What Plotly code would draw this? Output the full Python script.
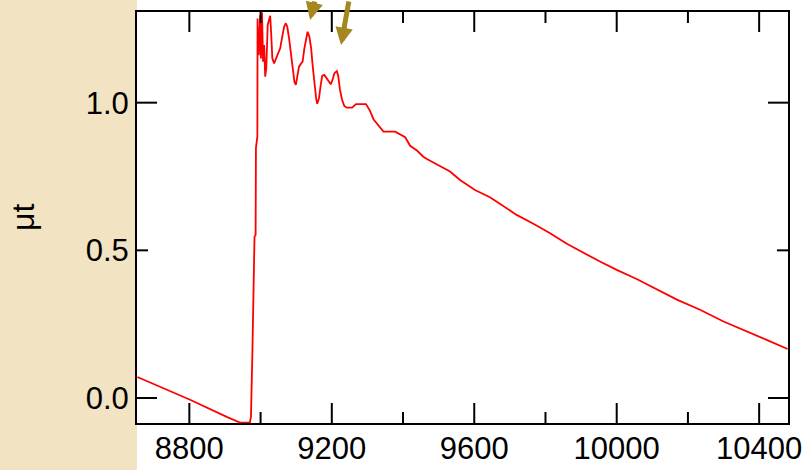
import plotly.graph_objects as go

# Energy (eV) and normalized absorption (mu t)
energy = [8654, 8802, 8905, 8942, 8970, 8973, 8977, 8980, 8983, 8986, 8987, 8991, 8991.5,
          8995, 8999, 9001, 9004, 9007, 9010, 9013, 9016, 9020, 9024, 9027, 9030, 9033,
          9038, 9043, 9048, 9055, 9060, 9066, 9071, 9075, 9080, 9085, 9089, 9095, 9099,
          9103, 9108, 9114, 9118, 9123, 9128, 9132, 9137, 9142, 9146, 9151, 9156, 9159,
          9164, 9169, 9173, 9179, 9186, 9192, 9197, 9202, 9207, 9214, 9218, 9223, 9229,
          9235, 9242, 9257, 9268, 9296, 9307, 9317, 9335, 9345, 9378, 9392, 9406, 9420,
          9439, 9457, 9467, 9532, 9560, 9602, 9644, 9673, 9719, 9766, 9813, 9860, 9907,
          9953, 10000, 10056, 10169, 10234, 10300, 10356, 10421, 10480]
mu = [0.071, -0.006, -0.064, -0.083, -0.083, -0.063, 0.153, 0.424, 0.547, 0.552, 0.847, 0.886, 1.285,
      1.161, 1.297, 1.150, 1.305, 1.139, 1.195, 1.088, 1.116, 1.263, 1.285, 1.294, 1.229, 1.150,
      1.133, 1.150, 1.161, 1.184, 1.218, 1.257, 1.269, 1.257, 1.218, 1.172, 1.122, 1.071, 1.060,
      1.083, 1.122, 1.133, 1.139, 1.184, 1.218, 1.240, 1.223, 1.184, 1.128, 1.066, 1.015, 0.996,
      1.015, 1.060, 1.091, 1.094, 1.080, 1.069, 1.062, 1.077, 1.099, 1.107, 1.091, 1.043, 1.009,
      0.989, 0.983, 0.983, 0.995, 0.995, 0.973, 0.944, 0.919, 0.902, 0.902, 0.891, 0.883, 0.854,
      0.838, 0.817, 0.809, 0.767, 0.738, 0.704, 0.680, 0.657, 0.620, 0.590, 0.558, 0.522, 0.491,
      0.462, 0.434, 0.403, 0.333, 0.299, 0.259, 0.231, 0.197, 0.166]

x_major = [8800, 9200, 9600, 10000, 10400]
x_ticktext = ["8800", "9200", "9600", "10000", "10400"]
x_minor = [9000, 9400, 9800, 10200]
y_ticks = [0.0, 0.5, 1.0]
y_ticktext = ["0.0", "0.5", "1.0"]
y_major = [0.0, 1.0]
y_minor = [0.5]
# Arrow tips (energy, mu t) marking features
arrow_x = [9139, 9226]
arrow_y = [1.280, 1.195]
arrow_ax = [5, 8]
arrow_ay = [-30, -50]

X_RANGE = [8653, 10481]
Y_RANGE = [-0.0846, 1.307]
FONT = "Liberation Sans, Arial, sans-serif"
RED = "#FF0000"
GOLD = "#A4871E"
BEIGE = "#F2E3C3"

W, H = 805, 470
M = dict(l=137, r=17, t=12, b=47)
PW = W - M["l"] - M["r"]
PH = H - M["t"] - M["b"]
MAJOR_LEN, MINOR_LEN, OUT_LEN = 20, 11, 2

fig = go.Figure()
fig.add_trace(go.Scatter(x=energy, y=mu, mode="lines",
                         line=dict(color=RED, width=1.8), showlegend=False,
                         hoverinfo="skip"))

# inward tick marks on all four sides (drawn from the tick value lists)
shapes = [dict(type="rect", xref="paper", yref="paper", x0=-0.3, x1=0,
               y0=-0.2, y1=1.1, fillcolor=BEIGE, line=dict(width=0), layer="below")]
tick_line = dict(color="black", width=2)
for vals, ln in ((x_major, MAJOR_LEN), (x_minor, MINOR_LEN)):
    for v in vals:
        shapes.append(dict(type="line", xref="x", yref="paper", x0=v, x1=v,
                           y0=-OUT_LEN / PH, y1=ln / PH, line=tick_line))
        shapes.append(dict(type="line", xref="x", yref="paper", x0=v, x1=v,
                           y0=1 + OUT_LEN / PH, y1=1 - ln / PH, line=tick_line))
for vals, ln in ((y_major, MAJOR_LEN), (y_minor, MINOR_LEN)):
    for v in vals:
        shapes.append(dict(type="line", xref="paper", yref="y", y0=v, y1=v,
                           x0=-OUT_LEN / PW, x1=ln / PW, line=tick_line))
        shapes.append(dict(type="line", xref="paper", yref="y", y0=v, y1=v,
                           x0=1 + OUT_LEN / PW, x1=1 - ln / PW, line=tick_line))

annotations = []
for xa, ya, dx, dy in zip(arrow_x, arrow_y, arrow_ax, arrow_ay):
    annotations.append(dict(x=xa, y=ya, xref="x", yref="y", ax=dx, ay=dy,
                            text="", showarrow=True, arrowhead=2, arrowsize=0.7,
                            arrowwidth=5, arrowcolor=GOLD))
annotations.append(dict(text="μt", x=-0.176, y=0.5, xref="paper", yref="paper",
                        textangle=-90, showarrow=False,
                        font=dict(family=FONT, size=32, color="black"),
                        xanchor="center", yanchor="middle"))

fig.update_layout(
    width=W, height=H,
    margin=dict(**M, autoexpand=False),
    paper_bgcolor="white", plot_bgcolor="white",
    showlegend=False,
    xaxis=dict(range=X_RANGE, tickmode="array", tickvals=x_major, ticktext=x_ticktext,
               automargin=False, ticklabeloverflow="allow", ticks="",
               ticklabelstandoff=-3,
               showline=True, linecolor="black", linewidth=2, mirror=True,
               showgrid=False, zeroline=False,
               tickfont=dict(family=FONT, size=31, color="black")),
    yaxis=dict(range=Y_RANGE, tickmode="array", tickvals=y_ticks, ticktext=y_ticktext,
               automargin=False, ticks="",
               showline=True, linecolor="black", linewidth=2, mirror=True,
               showgrid=False, zeroline=False,
               tickfont=dict(family=FONT, size=31, color="black")),
    shapes=shapes,
    annotations=annotations,
)

fig.write_html("out.html")
